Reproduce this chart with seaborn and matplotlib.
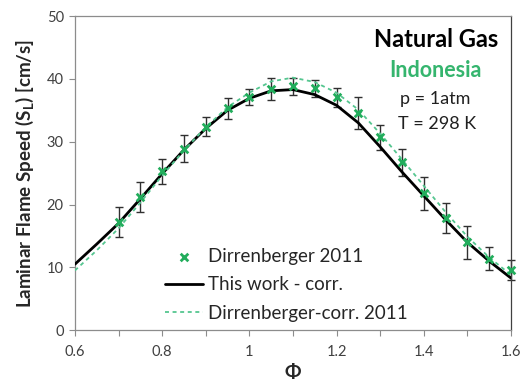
import numpy as np
import pandas as pd
import matplotlib
matplotlib.use("Agg")
import matplotlib.pyplot as plt
import seaborn as sns

# Equivalence ratio grid for the correlations
phi_curve = [0.60, 0.65, 0.70, 0.75, 0.80, 0.85, 0.90, 0.95, 1.00, 1.05, 1.10,
             1.15, 1.20, 1.25, 1.30, 1.35, 1.40, 1.45, 1.50, 1.55, 1.60]
sl_this_work = [10.5, 13.7, 17.0, 20.9, 24.9, 28.7, 32.1, 35.0, 36.9, 38.1, 38.3,
                37.5, 35.8, 33.0, 29.2, 25.2, 21.4, 17.6, 14.0, 11.0, 8.3]
sl_dirr_corr = [9.5, 12.7, 16.2, 20.3, 24.6, 28.6, 32.3, 35.5, 37.8, 39.6, 40.2,
                39.5, 37.8, 35.1, 31.3, 27.2, 23.0, 18.8, 14.9, 11.6, 8.8]

# Dirrenberger et al. (2011) measurements
phi_exp = [0.70, 0.75, 0.80, 0.85, 0.90, 0.95, 1.00, 1.05, 1.10, 1.15,
           1.20, 1.25, 1.30, 1.35, 1.40, 1.45, 1.50, 1.55, 1.60]
sl_exp = [17.2, 21.2, 25.3, 28.9, 32.4, 35.3, 37.1, 38.4, 38.8, 38.5,
          37.1, 34.6, 30.7, 26.7, 21.8, 17.8, 14.0, 11.4, 9.6]
sl_err = [2.4, 2.4, 2.0, 2.1, 1.5, 1.7, 1.3, 1.8, 1.4, 1.4,
          1.5, 2.5, 2.0, 2.2, 2.6, 2.4, 2.6, 1.9, 1.6]

x_ticks = [0.6, 0.8, 1.0, 1.2, 1.4, 1.6]
x_tick_labels = ["0.6", "0.8", "1", "1.2", "1.4", "1.6"]
y_ticks = [0, 10, 20, 30, 40, 50]

sns.set_style("white")
plt.rcParams["font.family"] = ["Lato", "DejaVu Sans"]

GREEN = "#22ad5c"
GREEN_TEXT = "#35b56e"
GREEN_DASH = "#55c690"
SPINE = "#8c8c8c"
TICKTXT = "#404040"

fig = plt.figure(figsize=(5.24, 3.83), dpi=100)
ax = fig.add_axes([0.143, 0.138, 0.832, 0.82])

curves = pd.DataFrame({"phi": phi_curve, "this": sl_this_work, "dirr": sl_dirr_corr})
exp = pd.DataFrame({"phi": phi_exp, "sl": sl_exp, "err": sl_err})

ax.errorbar(exp["phi"], exp["sl"], yerr=exp["err"], fmt="none", ecolor="#303030",
            elinewidth=1.0, capsize=3, capthick=1.0, zorder=2, clip_on=False)
sns.lineplot(data=curves, x="phi", y="this", ax=ax, color="black", linewidth=2.0,
             label="This work - corr.", zorder=3)
sns.lineplot(data=curves, x="phi", y="dirr", ax=ax, color=GREEN_DASH, linewidth=1.3,
             linestyle=(0, (2.2, 2)), label="Dirrenberger-corr. 2011", zorder=3)
sns.scatterplot(data=exp, x="phi", y="sl", ax=ax, marker="x", color=GREEN, s=30,
                linewidth=2.0, label="Dirrenberger 2011", zorder=4, clip_on=False)

ax.set_xlim(0.6, 1.6)
ax.set_ylim(0, 50)
ax.set_xticks(x_ticks)
ax.set_xticklabels(x_tick_labels)
ax.set_xticks(np.arange(0.7, 1.6, 0.2), minor=True)
ax.set_yticks(y_ticks)
ax.tick_params(axis="both", which="both", direction="out", length=4, width=0.8,
               color=SPINE, labelsize=10.5, labelcolor=TICKTXT)
ax.tick_params(axis="x", which="both", bottom=True, top=False, pad=7)
ax.tick_params(axis="y", left=True, right=False, pad=4)
for side in ["left", "bottom", "top"]:
    ax.spines[side].set_color(SPINE)
    ax.spines[side].set_linewidth(0.9)
ax.spines["right"].set_color("#404040")
ax.spines["right"].set_linewidth(0.9)

ax.set_xlabel("Φ", fontsize=14, fontweight="bold", labelpad=3)
ax.set_ylabel("Laminar Flame Speed (S$_\\mathregular{L}$) [cm/s]", fontsize=13.5,
              fontweight="bold", labelpad=8)

ax.text(0.828, 0.924, "Natural Gas", transform=ax.transAxes, ha="center", va="center",
        fontsize=17, fontweight="bold", color="black")
ax.text(0.826, 0.828, "Indonesia", transform=ax.transAxes, ha="center", va="center",
        fontsize=15.5, fontweight="bold", color=GREEN_TEXT)
ax.text(0.826, 0.736, "p = 1atm", transform=ax.transAxes, ha="center", va="center",
        fontsize=13, color="#202020")
ax.text(0.83, 0.656, "T = 298 K", transform=ax.transAxes, ha="center", va="center",
        fontsize=13, color="#202020")

handles, labels = ax.get_legend_handles_labels()
order = [labels.index("Dirrenberger 2011"), labels.index("This work - corr."),
         labels.index("Dirrenberger-corr. 2011")]
ax.legend([handles[i] for i in order], [labels[i] for i in order],
          loc="upper left", bbox_to_anchor=(0.19, 0.285), frameon=False,
          fontsize=13.5, handlelength=2.0, handletextpad=0.3, labelspacing=0.6,
          borderaxespad=0)

fig.savefig("out.png", dpi=100)
